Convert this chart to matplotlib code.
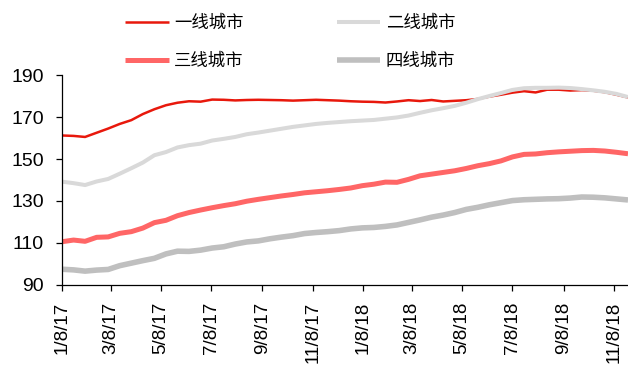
import numpy as np
import pandas as pd
import matplotlib
matplotlib.use('Agg')
import matplotlib.pyplot as plt

plt.rcParams['font.family'] = ['Liberation Sans', 'Noto Sans CJK SC', 'DejaVu Sans']

# fortnightly index values, Jan 2017 - Nov 2018
dates = pd.date_range('2017-01-08', periods=50, freq='14D')

tier1 = [161.2, 161.0, 160.5, 162.5, 164.5, 166.7, 168.5, 171.4, 173.7, 175.6,
         176.8, 177.5, 177.3, 178.3, 178.2, 177.9, 178.1, 178.2, 178.1, 178.0,
         177.8, 178.0, 178.2, 178.0, 177.8, 177.5, 177.3, 177.2, 176.9, 177.4,
         178.0, 177.6, 178.1, 177.4, 177.7, 178.0, 178.6, 179.7, 180.6, 181.6,
         182.3, 181.7, 183.0, 183.0, 182.6, 182.8, 182.5, 181.8, 180.6, 179.3]
tier2 = [139.2, 138.5, 137.6, 139.3, 140.5, 143.0, 145.6, 148.3, 151.8, 153.3,
         155.5, 156.6, 157.3, 158.8, 159.6, 160.5, 161.8, 162.6, 163.5, 164.4,
         165.3, 166.0, 166.7, 167.2, 167.6, 168.0, 168.3, 168.6, 169.2, 169.8,
         170.7, 172.0, 173.2, 174.2, 175.3, 176.8, 178.5, 180.0, 181.4, 182.9,
         183.7, 183.9, 183.9, 184.0, 183.8, 183.3, 182.7, 182.0, 181.0, 179.5]
tier3 = [110.6, 111.4, 110.8, 112.7, 112.9, 114.6, 115.4, 117.1, 119.7, 120.8,
         123.0, 124.5, 125.7, 126.8, 127.8, 128.7, 129.9, 130.8, 131.6, 132.4,
         133.1, 133.9, 134.4, 134.9, 135.5, 136.2, 137.3, 138.0, 139.0, 138.9,
         140.3, 142.0, 142.8, 143.6, 144.4, 145.5, 146.8, 147.8, 149.1, 151.0,
         152.2, 152.4, 153.0, 153.4, 153.7, 154.0, 154.1, 153.8, 153.2, 152.5]
tier4 = [97.5, 97.2, 96.6, 97.1, 97.4, 99.2, 100.4, 101.6, 102.7, 104.8,
         106.1, 106.0, 106.6, 107.6, 108.2, 109.5, 110.5, 111.0, 112.0, 112.8,
         113.5, 114.5, 115.0, 115.4, 115.9, 116.7, 117.2, 117.4, 117.9, 118.6,
         119.8, 121.0, 122.3, 123.3, 124.5, 126.0, 127.0, 128.2, 129.2, 130.2,
         130.6, 130.8, 131.0, 131.1, 131.4, 131.9, 131.8, 131.5, 131.0, 130.5]

names = ['一线城市', '二线城市', '三线城市', '四线城市']
colors = ['#E8180C', '#D9D9D9', '#FF6666', '#BFBFBF']
widths = [1.8, 2.9, 3.6, 4.0]

tick_dates = pd.to_datetime(['2017-01-08', '2017-03-08', '2017-05-08', '2017-07-08',
                             '2017-09-08', '2017-11-08', '2018-01-08', '2018-03-08',
                             '2018-05-08', '2018-07-08', '2018-09-08', '2018-11-08'])
tick_labels = ['1/8/17', '3/8/17', '5/8/17', '7/8/17', '9/8/17', '11/8/17',
               '1/8/18', '3/8/18', '5/8/18', '7/8/18', '9/8/18', '11/8/18']

fig = plt.figure(figsize=(6.28, 3.65), dpi=100)
ax = fig.add_axes([0.0987, 0.2192, 0.9013, 0.5753])

handles = []
for series, name, c, w in zip([tier1, tier2, tier3, tier4], names, colors, widths):
    ln, = ax.plot(dates, series, color=c, lw=w, solid_capstyle='butt', label=name)
    handles.append(ln)

ax.set_xlim(dates[0], dates[-1])
ax.set_ylim(90, 190)
ax.set_yticks([90, 110, 130, 150, 170, 190])
ax.set_xticks(tick_dates)
ax.set_xticklabels(tick_labels, rotation=90)

for side in ['top', 'right']:
    ax.spines[side].set_visible(False)
for side in ['left', 'bottom']:
    ax.spines[side].set_linewidth(0.9)
ax.tick_params(axis='y', direction='out', length=4, width=0.9, labelsize=14, pad=9)
ax.tick_params(axis='x', direction='out', length=4, width=0.9, labelsize=13.5, pad=8)

# two-row legend: row 1 tiers 1-2, row 2 tiers 3-4
order = [0, 2, 1, 3]
fig.legend([handles[i] for i in order], [names[i] for i in order],
           ncol=2, loc='center', bbox_to_anchor=(0.462, 0.886), frameon=False,
           prop={'family': ['Noto Sans CJK SC'], 'size': 12.5},
           handlelength=2.5, handletextpad=0.3, columnspacing=5.4, labelspacing=1.15)

fig.savefig('out.png', dpi=100)
